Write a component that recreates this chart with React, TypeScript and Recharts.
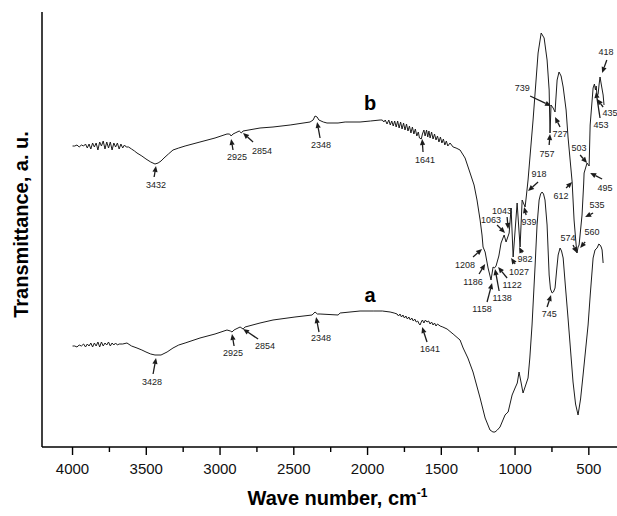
import React from "react";
import { LineChart, Line, XAxis, YAxis, ReferenceLine, ReferenceDot, Label } from "recharts";

// wavenumber (cm-1), transmittance (a.u.)
const curveA: [number, number][] = [
  [4000, 100], [3985, 100], [3970, 99], [3955, 101], [3940, 100], [3925, 102], [3912, 99], [3900, 102],
  [3888, 100], [3876, 103], [3864, 99], [3852, 103], [3840, 100], [3828, 104], [3816, 99], [3804, 104],
  [3792, 100], [3780, 103], [3768, 101], [3756, 104], [3744, 100], [3732, 103], [3720, 101], [3708, 103],
  [3696, 101], [3684, 102], [3660, 102], [3631, 103], [3600, 100], [3563, 98], [3530, 96], [3502, 94],
  [3470, 92], [3441, 91], [3400, 91], [3359, 94], [3319, 98], [3280, 101], [3237, 103], [3136, 108],
  [3034, 112], [2953, 116], [2930, 115], [2919, 114], [2905, 116], [2892, 117], [2864, 119], [2844, 117],
  [2830, 119], [2729, 123], [2641, 126], [2492, 129], [2376, 131], [2356, 134], [2340, 132], [2322, 132],
  [2200, 131], [2186, 133], [2051, 135], [1962, 135], [1900, 135], [1847, 134], [1820, 133], [1800, 132],
  [1790, 130], [1780, 132], [1770, 129], [1760, 131], [1750, 128], [1740, 130], [1730, 127], [1720, 129],
  [1710, 126], [1700, 128], [1690, 125], [1680, 127], [1670, 124], [1660, 125], [1650, 122], [1644, 121],
  [1636, 124], [1628, 126], [1618, 123], [1608, 126], [1597, 124], [1586, 125], [1576, 122], [1566, 124],
  [1556, 121], [1546, 123], [1536, 120], [1526, 122], [1508, 120], [1490, 119], [1461, 117], [1420, 112],
  [1373, 106], [1352, 98], [1320, 88], [1285, 74], [1237, 48], [1203, 28], [1170, 16], [1150, 14],
  [1136, 14], [1120, 16], [1102, 19], [1068, 31], [1055, 33], [1047, 34], [1020, 51], [1000, 58],
  [985, 63], [973, 74], [960, 64], [946, 53], [930, 60], [912, 68], [900, 88], [885, 121], [864, 181],
  [851, 221], [837, 246], [827, 252], [817, 254], [807, 252], [797, 246], [783, 221], [769, 171],
  [760, 157], [749, 153], [740, 154], [729, 158], [718, 176], [708, 191], [695, 198], [685, 195],
  [674, 188], [660, 162], [641, 128], [607, 64], [590, 42], [573, 31], [556, 47], [539, 71], [505, 121],
  [490, 152], [471, 188], [458, 196], [444, 198], [432, 202], [424, 201], [416, 199], [410, 196], [403, 183],
];

const curveB: [number, number][] = [
  [4000, 300], [3985, 300], [3970, 301], [3955, 299], [3940, 301], [3925, 300], [3912, 302], [3900, 298],
  [3888, 302], [3876, 297], [3864, 303], [3852, 299], [3840, 303], [3828, 296], [3816, 304], [3804, 300],
  [3792, 305], [3780, 297], [3768, 304], [3756, 298], [3744, 304], [3732, 296], [3720, 303], [3708, 299],
  [3696, 303], [3684, 297], [3672, 302], [3660, 298], [3648, 301], [3636, 299], [3620, 299], [3600, 297],
  [3580, 295], [3563, 293], [3530, 290], [3502, 287], [3470, 284], [3441, 282], [3420, 283], [3400, 285],
  [3380, 288], [3350, 292], [3319, 296], [3280, 298], [3237, 300], [3136, 304], [3034, 308], [2953, 312],
  [2935, 312], [2925, 310], [2912, 312], [2898, 313], [2870, 315], [2856, 313], [2844, 315], [2729, 318],
  [2641, 319], [2525, 321], [2390, 324], [2369, 326], [2356, 330], [2342, 329], [2330, 326], [2300, 324],
  [2275, 323], [2200, 323], [2152, 324], [2051, 324], [1980, 325], [1915, 326], [1900, 326], [1890, 324],
  [1880, 326], [1868, 322], [1856, 326], [1846, 321], [1836, 325], [1826, 320], [1816, 325], [1806, 319],
  [1796, 325], [1786, 318], [1776, 324], [1766, 317], [1756, 323], [1746, 316], [1736, 322], [1726, 315],
  [1716, 320], [1706, 313], [1696, 319], [1686, 312], [1676, 317], [1666, 310], [1656, 314], [1648, 308],
  [1636, 307], [1628, 312], [1618, 316], [1610, 310], [1600, 316], [1592, 309], [1584, 315], [1576, 308],
  [1566, 314], [1556, 307], [1546, 312], [1536, 306], [1526, 310], [1516, 304], [1506, 309], [1496, 303],
  [1486, 307], [1476, 301], [1466, 305], [1456, 300], [1441, 303], [1420, 299], [1400, 298], [1373, 296],
  [1339, 288], [1305, 273], [1278, 261], [1258, 246], [1237, 226], [1224, 211], [1217, 199], [1203, 194],
  [1183, 178], [1163, 166], [1149, 179], [1140, 178], [1129, 180], [1110, 190], [1095, 203], [1074, 211],
  [1061, 204], [1040, 213], [1027, 238], [1013, 189], [986, 243], [966, 199], [952, 246], [932, 239],
  [925, 248], [912, 266], [878, 326], [844, 393], [823, 413], [803, 408], [783, 386], [769, 356],
  [763, 313], [756, 341], [742, 338], [729, 334], [715, 366], [702, 374], [688, 370], [674, 359],
  [654, 336], [641, 309], [613, 264], [600, 226], [586, 201], [580, 193], [573, 199], [566, 201],
  [546, 231], [535, 262], [532, 273], [512, 283], [498, 280], [491, 321], [471, 358], [462, 362],
  [455, 356], [450, 360], [444, 350], [437, 352], [430, 362], [424, 369], [416, 362], [403, 351], [397, 341],
];

// peak label, text position, arrow tail, arrow head (wavenumber, a.u.)
const peaksB: [string, number, number, number, number, number, number][] = [
  ["3432", 3434, 261, 3447, 269, 3434, 280],
  ["2925", 2885, 289, 2912, 296, 2925, 307],
  ["2854", 2715, 295, 2776, 304, 2844, 313],
  ["2348", 2315, 301, 2322, 308, 2342, 324],
  ["1641", 1610, 286, 1624, 294, 1630, 307],
  ["1208", 1339, 181, 1285, 189, 1224, 197],
  ["1186", 1285, 164, 1244, 172, 1203, 182],
  ["1158", 1224, 137, 1190, 144, 1156, 163],
  ["1138", 1088, 148, 1108, 155, 1136, 177],
  ["1122", 1020, 161, 1054, 168, 1115, 179],
  ["1027", 973, 174, 1000, 182, 1027, 188],
  ["982", 932, 187, 952, 193, 973, 199],
  ["1063", 1163, 226, 1122, 221, 1068, 213],
  ["1043", 1088, 235, 1054, 229, 1047, 217],
  ["939", 905, 224, 925, 231, 939, 239],
  ["918", 837, 272, 844, 264, 912, 255],
  ["739", 952, 358, 898, 350, 756, 340],
  ["727", 695, 312, 695, 319, 729, 329],
  ["757", 783, 292, 769, 301, 763, 312],
  ["612", 688, 250, 654, 258, 613, 264],
  ["503", 566, 298, 559, 291, 512, 283],
  ["495", 390, 258, 410, 267, 491, 273],
  ["453", 417, 321, 424, 328, 451, 354],
  ["435", 356, 333, 403, 339, 444, 347],
  ["418", 383, 394, 378, 386, 410, 373],
  ["535", 444, 241, 471, 233, 525, 229],
  ["574", 641, 208, 607, 201, 580, 193],
  ["560", 478, 214, 525, 204, 559, 198],
];

const peaksA: [string, number, number, number, number, number, number][] = [
  ["3428", 3461, 64, 3454, 72, 3434, 88],
  ["2925", 2912, 93, 2905, 100, 2919, 112],
  ["2854", 2695, 100, 2742, 107, 2844, 117],
  ["2348", 2315, 108, 2329, 114, 2349, 129],
  ["1641", 1576, 97, 1597, 104, 1630, 119],
  ["745", 769, 132, 783, 139, 756, 151],
];

const seriesNames: [string, number, number][] = [
  ["b", 1983, 343],
  ["a", 1983, 151],
];

const xTicks = [4000, 3750, 3500, 3250, 3000, 2750, 2500, 2250, 2000, 1750, 1500, 1250, 1000, 750, 500];

const dataA = curveA.map(([wn, t]) => ({ wn, t }));
const dataB = curveB.map(([wn, t]) => ({ wn, t }));
const peaks = [...peaksB, ...peaksA];

const FONT = "'Liberation Sans', Arial, sans-serif";
const INK = "#1c1c1c";

const Arrow = (p: any) => {
  const { x1, y1, x2, y2 } = p;
  const dx = x2 - x1;
  const dy = y2 - y1;
  const len = Math.hypot(dx, dy) || 1;
  const ux = dx / len;
  const uy = dy / len;
  const hl = 6;
  const hw = 2.6;
  const bx = x2 - ux * hl;
  const by = y2 - uy * hl;
  return (
    <g>
      <line x1={x1} y1={y1} x2={bx} y2={by} stroke={INK} strokeWidth={1.3} />
      <polygon
        points={`${x2},${y2} ${bx - uy * hw},${by + ux * hw} ${bx + uy * hw},${by - ux * hw}`}
        fill={INK}
      />
    </g>
  );
};

const WaveTick = (p: any) => {
  const { x, y, payload } = p;
  const major = payload.value % 500 === 0;
  return (
    <g>
      <line x1={x} x2={x} y1={y} y2={y + (major ? 8 : 5)} stroke="#000" strokeWidth={1.4} />
      {major && (
        <text x={x} y={y + 27} textAnchor="middle" fontSize={15} fontFamily={FONT} fill="#111">
          {payload.value}
        </text>
      )}
    </g>
  );
};

const XTitle = (p: any) => {
  const vb = p.viewBox;
  const cx = vb.x + vb.width / 2 + 8;
  return (
    <text x={cx} y={vb.y + 58} textAnchor="middle" fontSize={20} fontWeight="bold" fontFamily={FONT} fill="#000">
      Wave number, cm
      <tspan dy={-8} fontSize={12}>
        -1
      </tspan>
    </text>
  );
};

const YTitle = (p: any) => {
  const vb = p.viewBox;
  const cx = vb.x + vb.width - 21;
  const cy = vb.y + vb.height / 2 - 5;
  return (
    <text
      x={cx}
      y={cy}
      transform={`rotate(-90, ${cx}, ${cy})`}
      textAnchor="middle"
      dominantBaseline="central"
      fontSize={20}
      fontWeight="bold"
      fontFamily={FONT}
      fill="#000"
    >
      Transmittance, a. u.
    </text>
  );
};

export default function App() {
  return (
    <div style={{ position: "absolute", left: 0, top: 0, width: 617, height: 516, overflow: "hidden", background: "#fff" }}>
      <LineChart width={617} height={516} margin={{ top: 12, right: 0, bottom: 0, left: 41 }}>
        <XAxis
          dataKey="wn"
          type="number"
          domain={[309, 4207]}
          reversed
          allowDataOverflow
          ticks={xTicks}
          interval={0}
          tickLine={false}
          tickSize={0}
          tickMargin={0}
          tick={<WaveTick />}
          height={69}
          axisLine={{ stroke: "#000", strokeWidth: 1.5 }}
          label={<Label content={<XTitle />} />}
        />
        <XAxis
          xAxisId="top"
          orientation="top"
          dataKey="wn"
          type="number"
          domain={[309, 4207]}
          reversed
          allowDataOverflow
          height={0}
          tick={false}
          tickLine={false}
          axisLine={{ stroke: "#000", strokeWidth: 1.5 }}
        />
        <YAxis
          type="number"
          domain={[-1, 434]}
          allowDataOverflow
          width={1}
          tick={false}
          tickLine={false}
          axisLine={{ stroke: "#000", strokeWidth: 1.5 }}
          label={<Label content={<YTitle />} />}
        />
        <Line data={dataA} dataKey="t" type="linear" dot={false} stroke={INK} strokeWidth={1} isAnimationActive={false} />
        <Line data={dataB} dataKey="t" type="linear" dot={false} stroke={INK} strokeWidth={1} isAnimationActive={false} />
        {peaks.map(([txt, tx, ty, ax, ay, hx, hy], i) => (
          <ReferenceLine
            key={`arr-${i}`}
            segment={[{ x: ax, y: ay }, { x: hx, y: hy }]}
            ifOverflow="visible"
            shape={Arrow}
          />
        ))}
        {peaks.map(([txt, tx, ty], i) => (
          <ReferenceDot
            key={`lbl-${i}`}
            x={tx}
            y={ty}
            r={0}
            fill="none"
            stroke="none"
            ifOverflow="visible"
            label={{ value: txt, position: "center", fontSize: 9, fill: "#222", fontFamily: FONT }}
          />
        ))}
        {seriesNames.map(([name, x, y]) => (
          <ReferenceDot
            key={name}
            x={x}
            y={y}
            r={0}
            fill="none"
            stroke="none"
            label={{ value: name, position: "center", fontSize: 20, fontWeight: "bold", fill: "#000", fontFamily: FONT }}
          />
        ))}
      </LineChart>
    </div>
  );
}
